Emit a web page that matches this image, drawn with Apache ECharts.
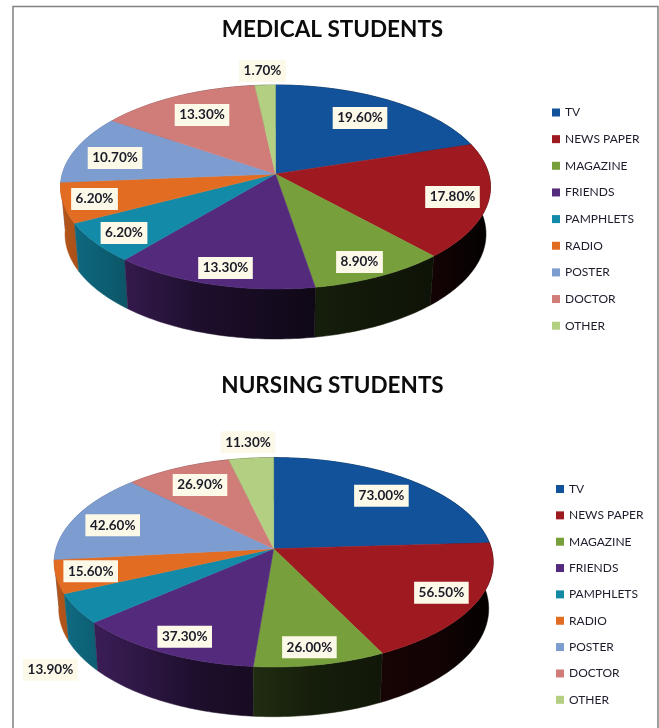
<!DOCTYPE html>
<html>
<head>
<meta charset="utf-8">
<title>Medical and nursing students</title>
<script src="https://cdn.jsdelivr.net/npm/echarts@6/dist/echarts.min.js"></script>
<style>
html, body { margin: 0; padding: 0; background: #fff; }
/* the reference is a soft scan, take the edge off a little */
#main { width: 659px; height: 728px; filter: blur(0.4px); }
</style>
</head>
<body>
<div id="main"></div>
<script>
var categories = ['TV', 'NEWS PAPER', 'MAGAZINE', 'FRIENDS', 'PAMPHLETS', 'RADIO', 'POSTER', 'DOCTOR', 'OTHER'];
var medicalValues = [19.6, 17.8, 8.9, 13.3, 6.2, 6.2, 10.7, 13.3, 1.7];
var nursingValues = [73, 56.5, 26, 37.3, 13.9, 15.6, 42.6, 26.9, 11.3];
var colors = ['#11529b', '#9e1a20', '#77a03c', '#542a7c', '#138aa8', '#e26c22', '#7d9ccf', '#d07d7a', '#b3cf82'];

// where the labels were dragged to, px from the pie's hub
var medicalLabelOffset = [[84.5, -56], [177, 23], [84, 88], [-50, 94], [-151.5, 59], [-181, 25], [-160.5, -16], [-73.5, -59], [-13, -103]];
var nursingLabelOffset = [[107.7, -53], [167.7, 44], [35.7, 98.6], [-89, 88], [-223.3, 121], [-183, 22.6], [-161, -23.4], [-73.7, -63.7], [-25.7, -106.4]];

var FONT = 'Lato';

// top ellipse, hub position and lower rim of each tilted pie
var medicalPie = { cx: 275.5, cy: 187, rx: 215, ry: 102, hubY: 174, lowCy: 234, lowRx: 210.5, lowRy: 105 };
var nursingPie = { cx: 273.7, cy: 562.3, rx: 219.5, ry: 104.7, hubY: 548.7, lowCy: 608.7, lowRx: 215, lowRy: 108 };

// perspective: the circle's centre lands on the hub, the rim stays on the ellipse
function piePoint(pie, deg, low) {
    var a = (pie.hubY - pie.cy) / pie.ry;
    var u = Math.sin(deg * Math.PI / 180);
    var v = -Math.cos(deg * Math.PI / 180);
    var den = 1 + a * v;
    var X = u * Math.sqrt(1 - a * a) / den;
    var Y = (v + a) / den;
    if (low) {
        return [pie.cx + X * pie.lowRx, pie.lowCy + Y * pie.lowRy];
    }
    return [pie.cx + X * pie.rx, pie.cy + Y * pie.ry];
}

function sliceAngles(values) {
    var total = 0, run = 0, out = [];
    values.forEach(function (v) { total += v; });
    values.forEach(function (v) {
        out.push([run / total * 360, (run + v) / total * 360]);
        run += v;
    });
    return out;
}

function arc(pie, start, end, low) {
    var pts = [];
    var n = Math.max(2, Math.ceil(end - start));
    for (var i = 0; i <= n; i++) {
        pts.push(piePoint(pie, start + (end - start) * i / n, low));
    }
    return pts;
}

function shade(hex, k) {
    var c = echarts.color.parse(hex);
    return 'rgb(' + Math.round(c[0] * k) + ',' + Math.round(c[1] * k) + ',' + Math.round(c[2] * k) + ')';
}

// side wall is lit from the left and goes almost black to the right
function wallFill(pie, hex) {
    var left = pie.cx - pie.rx;
    var w = pie.rx * 2;
    return new echarts.graphic.LinearGradient(left, 0, left + w, 0, [
        { offset: 0, color: shade(hex, 0.8) },
        { offset: 0.15, color: shade(hex, 0.62) },
        { offset: 0.32, color: shade(hex, 0.36) },
        { offset: 0.6, color: shade(hex, 0.18) },
        { offset: 0.87, color: shade(hex, 0.12) },
        { offset: 1, color: shade(hex, 0.02) }
    ], true);
}

function buildSeries(pie, values, labelOffset) {
    var angles = sliceAngles(values);
    var list = [];

    list.push({
        type: 'custom', coordinateSystem: 'none', silent: true, z: 1,
        data: values,
        renderItem: function (params) {
            var i = params.dataIndex;
            var pts = arc(pie, angles[i][0], angles[i][1], false)
                .concat(arc(pie, angles[i][0], angles[i][1], true).reverse());
            var fill = wallFill(pie, colors[i]);
            var mid = (angles[i][0] + angles[i][1]) / 2;
            // walls nearest the viewer go on top
            return { type: 'polygon', z2: 180 - Math.abs(mid - 180), shape: { points: pts }, style: { fill: fill, stroke: fill, lineWidth: 0.5 } };
        }
    });

    // one series per category so that the legend finds its name and colour
    categories.forEach(function (name, i) {
        list.push({
            type: 'custom', coordinateSystem: 'none', silent: true, z: 2,
            name: name,
            itemStyle: { color: colors[i] },
            data: [values[i]],
            renderItem: function () {
                var pts = [[pie.cx, pie.hubY]].concat(arc(pie, angles[i][0], angles[i][1], false));
                return { type: 'polygon', shape: { points: pts }, style: { fill: colors[i], stroke: colors[i], lineWidth: 0.5 } };
            }
        });
    });

    list.push({
        type: 'custom', coordinateSystem: 'none', silent: true, z: 3,
        data: values,
        renderItem: function (params, api) {
            var i = params.dataIndex;
            return {
                type: 'text',
                x: pie.cx + labelOffset[i][0],
                y: pie.hubY + labelOffset[i][1],
                style: {
                    text: api.value(0).toFixed(2) + '%',
                    font: 'bold 13.5px ' + FONT,
                    fill: '#1c1c28',
                    align: 'center',
                    verticalAlign: 'middle',
                    backgroundColor: '#fdf9e8',
                    padding: [4, 4.5]
                }
            };
        }
    });
    return list;
}

function legendAt(left, top, gap) {
    return {
        orient: 'vertical',
        left: left,
        top: top,
        padding: 0,
        data: categories,
        icon: 'rect',
        itemWidth: 8,
        itemHeight: 8,
        itemGap: gap,
        selectedMode: false,
        textStyle: { fontFamily: FONT, fontSize: 12, lineHeight: 14, color: '#1c1c2c' }
    };
}

function titleAt(text, y) {
    return {
        text: text,
        left: 332.5,
        top: y,
        textAlign: 'center',
        padding: 0,
        textStyle: { fontFamily: FONT, fontWeight: 'bold', fontSize: 22.5, color: '#0c0c0c' }
    };
}

var myChart = echarts.init(document.getElementById('main'));
myChart.setOption({
    animation: false,
    backgroundColor: '#fff',
    title: [titleAt('MEDICAL STUDENTS', 18.5), titleAt('NURSING STUDENTS', 374)],
    legend: [legendAt(552, 105.5, 12.65), legendAt(556, 482, 12.35)],
    graphic: [{
        type: 'rect',
        shape: { x: 13, y: 6.5, width: 645, height: 800 },
        style: { fill: 'none', stroke: '#808080', lineWidth: 1.5 },
        silent: true
    }],
    series: buildSeries(medicalPie, medicalValues, medicalLabelOffset)
        .concat(buildSeries(nursingPie, nursingValues, nursingLabelOffset))
});
</script>
</body>
</html>
